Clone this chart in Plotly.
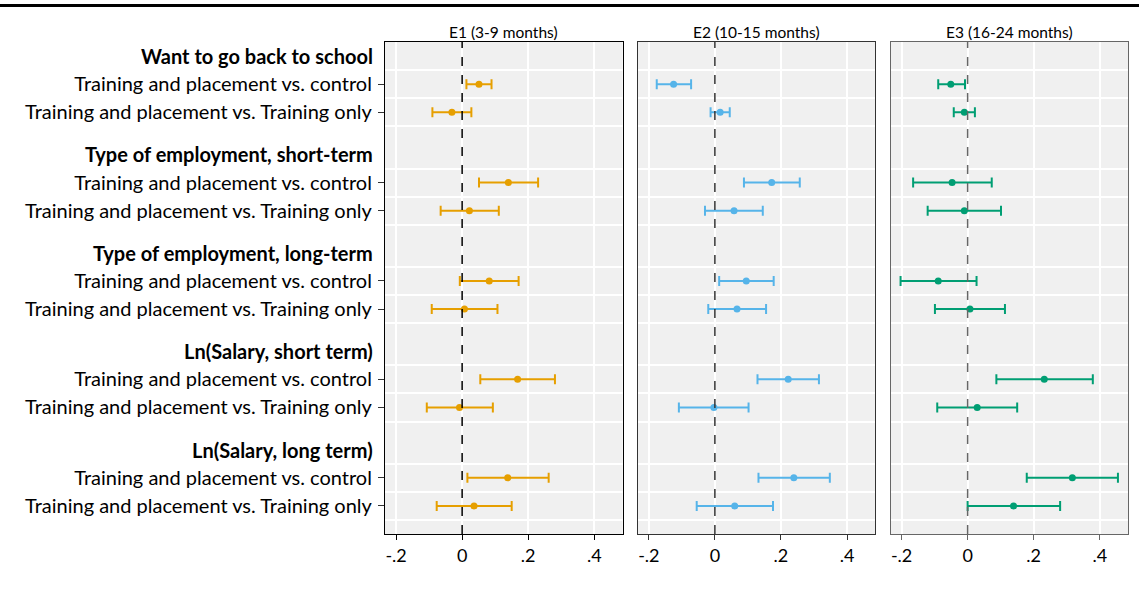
import plotly.graph_objects as go

# ---------------- data ----------------
panels = ["E1 (3-9 months)", "E2 (10-15 months)", "E3 (16-24 months)"]
colors = ["#E69F00", "#56B4E9", "#009E73"]
frame_colors = ["#000000", "#333333", "#666666"]

groups = ["Want to go back to school", "Type of employment, short-term",
          "Type of employment, long-term", "Ln(Salary, short term)", "Ln(Salary, long term)"]
comparisons = ["Training and placement vs. control", "Training and placement vs. Training only"]

# point estimates per panel, ordered group by group (control, training only)
est_E1 = [0.051, -0.031, 0.140, 0.022, 0.082, 0.007, 0.168, -0.008, 0.138, 0.036]
lo_E1 = [0.013, -0.090, 0.051, -0.065, -0.007, -0.092, 0.055, -0.107, 0.016, -0.077]
hi_E1 = [0.089, 0.028, 0.230, 0.111, 0.171, 0.107, 0.281, 0.093, 0.262, 0.150]

est_E2 = [-0.125, 0.016, 0.172, 0.058, 0.095, 0.067, 0.222, -0.003, 0.239, 0.060]
lo_E2 = [-0.176, -0.013, 0.088, -0.030, 0.013, -0.020, 0.129, -0.109, 0.132, -0.055]
hi_E2 = [-0.072, 0.045, 0.257, 0.145, 0.178, 0.155, 0.315, 0.102, 0.348, 0.176]

est_E3 = [-0.051, -0.010, -0.047, -0.010, -0.089, 0.007, 0.232, 0.029, 0.317, 0.139]
lo_E3 = [-0.089, -0.042, -0.165, -0.121, -0.203, -0.099, 0.087, -0.092, 0.179, 0.000]
hi_E3 = [-0.008, 0.022, 0.073, 0.101, 0.027, 0.113, 0.379, 0.150, 0.455, 0.280]

x_tickvals = [-0.2, 0, 0.2, 0.4]
x_ticktext = ["-.2", "0", ".2", ".4"]

estimates = [est_E1, est_E2, est_E3]
lows = [lo_E1, lo_E2, lo_E3]
highs = [hi_E1, hi_E2, hi_E3]

# ---------------- layout geometry ----------------
W, H = 1139, 593
ML, MT = 385, 42
PLOT_RIGHT = 1128
PLOT_BOTTOM = 534
MR = W - PLOT_RIGHT
MB = H - PLOT_BOTTOM
PW = W - ML - MR
PH = H - MT - MB
panel_w = 237.5
gap = (PW - 3 * panel_w) / 2
domains = []
for i in range(3):
    a = (i * (panel_w + gap)) / PW
    domains.append([a, min(1.0, a + panel_w / PW)])

STEP = 3.5
heading_pos = [g * STEP for g in range(len(groups))]
row_pos = []
row_labels = []
for g in range(len(groups)):
    for k, c in enumerate(comparisons):
        row_pos.append(g * STEP + 1 + k)
        row_labels.append(c)
grid_pos = []
for g in range(len(groups)):
    grid_pos += [g * STEP + 0.5, g * STEP + 1.5, g * STEP + 2.5]

FONT = "Lato"
fig = go.Figure()

for i in range(3):
    xa = "x" if i == 0 else f"x{i+1}"
    ya = "y" if i == 0 else f"y{i+1}"
    est, lo, hi = estimates[i], lows[i], highs[i]
    fig.add_trace(go.Scatter(
        x=est, y=row_pos, mode="markers",
        marker=dict(color=colors[i], size=7),
        error_x=dict(type="data", symmetric=False,
                     array=[h - e for h, e in zip(hi, est)],
                     arrayminus=[e - l for e, l in zip(est, lo)],
                     color=colors[i], thickness=2, width=5),
        xaxis=xa, yaxis=ya, showlegend=False, hoverinfo="skip"))

    fig.layout[("xaxis" if i == 0 else f"xaxis{i+1}")] = dict(
        domain=domains[i], anchor=ya, range=[-0.2335, 0.4855],
        tickvals=x_tickvals, ticktext=x_ticktext, ticks="outside", ticklen=5,
        tickcolor=frame_colors[i], tickfont=dict(family=FONT, size=18, color="black"),
        showgrid=True, gridcolor="white", gridwidth=1.5, zeroline=False,
        showline=True, linecolor=frame_colors[i], linewidth=1.2, mirror=True)

    yax = dict(anchor=xa, range=[len(groups) * STEP - 1 + 0.5, -0.5],
               tickvals=row_pos, ticktext=row_labels, showgrid=False, zeroline=False,
               minor=dict(tickvals=grid_pos, showgrid=True, gridcolor="white",
                          gridwidth=1.5, ticks=""),
               showline=True, linecolor=frame_colors[i], linewidth=1.2, mirror=True)
    if i == 0:
        yax.update(ticks="outside", ticklen=6, tickcolor="#333333", ticklabelstandoff=2,
                   tickfont=dict(family=FONT, size=20, color="black"))
    else:
        yax.update(matches="y", showticklabels=False, ticks="")
    fig.layout[("yaxis" if i == 0 else f"yaxis{i+1}")] = yax

    # zero reference line
    fig.add_shape(type="line", xref=xa, yref=f"{ya} domain", x0=0, x1=0, y0=0, y1=1,
                  line=dict(color=frame_colors[i], width=1.5, dash="dash"), layer="above")

    # panel title
    fig.add_annotation(xref="paper", yref="paper", x=(domains[i][0] + domains[i][1]) / 2,
                       y=(PLOT_BOTTOM - 32) / PH, text=panels[i], showarrow=False,
                       xanchor="center", yanchor="middle",
                       font=dict(family=FONT, size=15.5, color="black"))

# group headings
for g, name in enumerate(groups):
    fig.add_annotation(xref="paper", yref="y", x=0, y=heading_pos[g], text=f"<b>{name}</b>",
                       showarrow=False, xanchor="right", yanchor="middle", xshift=-10,
                       font=dict(family=FONT, size=20, color="black"))

# top rule
fig.add_shape(type="line", xref="paper", yref="paper", x0=-ML / PW, x1=(W - ML) / PW,
              y0=(PLOT_BOTTOM - 5.5) / PH, y1=(PLOT_BOTTOM - 5.5) / PH,
              line=dict(color="black", width=3))

fig.update_layout(width=W, height=H, margin=dict(l=ML, r=MR, t=MT, b=MB),
                  paper_bgcolor="white", plot_bgcolor="#f0f0f0",
                  font=dict(family=FONT, color="black"))

# remove the default page margin so the figure sits at the window's top-left corner
fig.write_html("out.html", config={"displayModeBar": False},
               post_script="document.body.style.margin='0';document.body.style.overflow='hidden';")
